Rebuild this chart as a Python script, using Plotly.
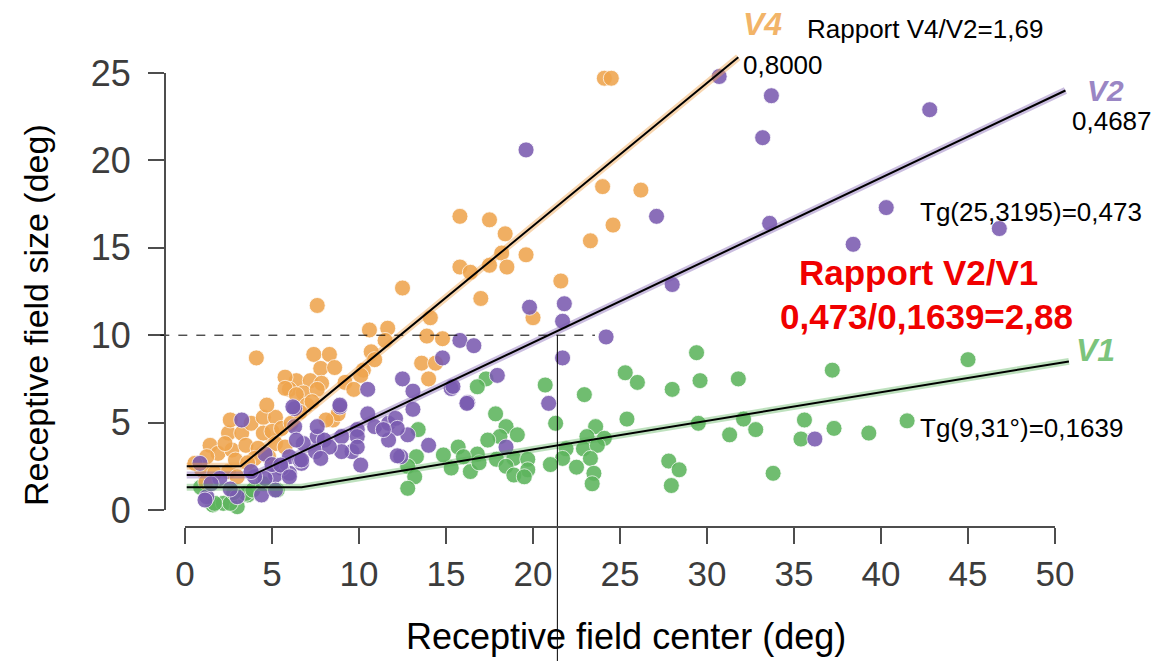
import plotly.graph_objects as go

# ---------------- data ----------------
v4_x = [24.1, 24.5, 24.0, 26.2, 15.8, 17.5, 18.4, 24.6, 23.3, 18.2, 19.6, 15.8, 16.4, 17.5, 18.5,
        12.5, 17.0, 21.6, 20.0, 14.1, 13.9, 14.8, 13.6, 14.4, 14.0, 7.6, 10.6, 11.65, 11.5, 7.4,
        8.3, 10.7, 10.9, 7.8, 8.6, 10.25, 10.1, 6.4, 5.75, 7.2, 7.85, 9.2, 6.0, 6.8, 7.6,
        9.7, 5.75, 6.4, 7.0, 8.5, 8.8, 8.1, 4.1,
        1.44, 2.5, 3.26, 3.8, 4.5, 5.2, 4.5, 5.0, 5.55, 6.1, 1.9, 2.7, 3.5, 4.2, 5.2, 0.96,
        1.7, 2.5, 2.9, 4.0, 4.8, 5.75, 1.25, 0.57, 2.3, 2.6, 1.2, 3.0, 6.6, 7.3, 4.7, 3.6]
v4_y = [24.7, 24.7, 18.5, 18.3, 16.8, 16.6, 15.8, 16.3, 15.4, 14.7, 14.6, 13.9, 13.6, 14.0, 13.9,
        12.7, 12.1, 13.1, 11.0, 11.0, 9.95, 9.8, 8.4, 8.4, 7.5, 11.7, 10.3, 10.4, 9.7, 8.9,
        8.9, 9.05, 8.6, 8.1, 8.15, 8.0, 7.7, 7.4, 7.6, 7.4, 7.25, 7.3, 6.9, 6.7, 6.9,
        6.9, 6.96, 6.6, 6.0, 5.15, 5.5, 5.15, 8.7,
        3.7, 4.4, 4.4, 4.96, 5.3, 5.3, 4.4, 4.5, 4.67, 4.96, 3.24, 3.43, 3.7, 3.53, 3.8, 2.3,
        2.1, 2.2, 2.86, 2.95, 3.05, 3.6, 3.05, 2.67, 3.8, 5.15, 1.6, 1.9, 5.6, 6.2, 6.0, 2.7]

v2_x = [19.6, 27.1, 28.0, 19.8, 21.8, 21.7, 15.8, 16.6, 24.2, 21.7, 14.8, 30.7, 33.7, 42.8, 33.2,
        40.3, 33.6, 46.8, 38.4, 17.95, 15.3, 12.5, 13.1, 16.25, 13.1, 20.9, 12.8, 14.0, 18.45, 12.4,
        36.2, 10.5, 8.9, 6.3, 10.5, 9.9, 10.9, 11.7, 12.1, 12.2, 11.7, 9.6, 10.1, 12.2, 7.6,
        6.8, 8.0, 7.5, 6.7, 6.0, 7.6, 6.3, 15.4, 16.2, 8.9, 6.2, 3.26, 3.0, 0.86, 1.25,
        4.4, 6.4, 6.0, 6.6, 5.55, 5.2, 4.6, 4.0, 5.2, 1.15, 4.6, 5.0, 3.8, 2.0, 1.5,
        2.6, 11.4, 9.0, 9.9, 9.9, 9.0, 8.3, 7.8, 6.7, 5.5, 6.0]
v2_y = [20.6, 16.8, 12.9, 11.6, 11.8, 10.8, 9.7, 9.4, 9.9, 8.7, 8.7, 24.8, 23.7, 22.9, 21.3,
        17.3, 16.4, 16.1, 15.2, 7.7, 6.95, 7.5, 6.8, 6.15, 5.76, 6.1, 4.3, 3.7, 3.6, 3.05,
        4.06, 6.9, 5.9, 5.8, 5.5, 4.6, 4.77, 4.96, 5.24, 4.67, 4.0, 3.34, 2.57, 3.1, 4.2,
        3.8, 4.0, 3.34, 2.67, 2.1, 4.77, 4.77, 7.07, 6.1, 6.0, 5.9, 5.15, 0.76, 2.67, 0.76,
        0.86, 4.0, 3.05, 2.86, 2.4, 2.0, 1.8, 1.9, 1.14, 0.57, 3.2, 2.6, 2.2, 1.8, 1.5,
        1.2, 4.6, 4.2, 4.2, 3.6, 3.34, 3.6, 2.95, 2.86, 2.57, 1.9]

v1_x = [29.4, 45.0, 25.3, 26.0, 29.6, 31.8, 28.0, 22.95, 20.7, 17.3, 16.8, 17.85, 25.4, 29.5, 32.1,
        21.3, 18.45, 23.6, 13.4, 19.1, 18.1, 17.4, 23.1, 24.1, 31.3, 15.7, 14.85, 16.8, 21.9, 22.9,
        23.7, 13.3, 17.9, 18.9, 19.7, 21.7, 23.3, 27.8, 12.8, 15.3, 16.4, 16.9, 18.45, 19.7, 21.0,
        22.5, 23.5, 28.4, 18.9, 19.5, 13.2, 12.8, 23.4, 27.95, 37.2, 32.8, 35.6, 35.4, 37.3, 39.3,
        41.5, 33.8, 1.6, 2.2, 3.0, 3.6, 5.3, 16.0, 1.7, 2.6, 3.5, 3.9, 0.9, 2.8, 4.5]
v1_y = [9.0, 8.6, 7.85, 7.3, 7.4, 7.5, 6.9, 6.6, 7.15, 7.5, 7.05, 5.5, 5.2, 4.96, 5.2,
        4.96, 4.77, 4.77, 4.6, 4.3, 4.2, 4.0, 4.2, 4.1, 4.3, 3.6, 3.15, 3.2, 3.5, 3.5,
        3.7, 3.05, 2.9, 2.95, 2.9, 2.95, 2.95, 2.8, 2.5, 2.4, 2.2, 2.7, 2.5, 2.3, 2.6,
        2.45, 2.1, 2.3, 2.0, 1.9, 1.9, 1.24, 1.5, 1.4, 8.0, 4.6, 5.15, 4.06, 4.67, 4.4,
        5.1, 2.1, 0.29, 0.38, 0.19, 0.86, 1.14, 3.05, 0.38, 0.38, 0.95, 1.14, 1.3, 1.0, 1.5]

# piecewise fits (knee, then slope)
fit_v4_x = [0.1, 3.2, 31.8]
fit_v4_y = [2.5, 2.5, 25.9]
fit_v2_x = [0.1, 3.9, 50.6]
fit_v2_y = [2.0, 2.0, 24.0]
fit_v1_x = [0.1, 6.7, 50.8]
fit_v1_y = [1.3, 1.3, 8.5]

ref_size = 10          # dashed reference level
ref_center = 21.4      # vertical reference line

x_ticks = [0, 5, 10, 15, 20, 25, 30, 35, 40, 45, 50]
y_ticks = [0, 5, 10, 15, 20, 25]

# ---------------- layout geometry ----------------
W, H = 1168, 661
L, R, T, B = 165, 68, 10, 134
PW, PH = W - L - R, H - T - B
PX0, PXU = 185.0, 17.4      # pixel of x=0 and px per unit
PY0, PYU = 510.0, 17.48     # pixel of y=0 and px per unit
xr = [(L - PX0) / PXU, (W - R - PX0) / PXU]
yr = [(PY0 - (H - B)) / PYU, (PY0 - T) / PYU]


def y2paper(y):
    return (y - yr[0]) / (yr[1] - yr[0])


def px2paper(px):
    return (px - L) / PW


def py2paper(py):
    return (H - B - py) / PH


ORANGE = "#EFA54E"
PURPLE = "#7A5BB0"
GREEN = "#5DB55D"
FONT = "Liberation Sans, Arial, Helvetica, sans-serif"

fig = go.Figure()


def add_pts(xs, ys, color):
    fig.add_trace(go.Scatter(x=xs, y=ys, mode="markers", cliponaxis=False,
                             marker=dict(size=16, color=color, opacity=0.88,
                                         line=dict(color="rgba(255,255,255,0.8)", width=1)),
                             hoverinfo="skip", showlegend=False))


add_pts(v1_x, v1_y, GREEN)
add_pts(v4_x, v4_y, ORANGE)
add_pts(v2_x, v2_y, PURPLE)

for fx, fy, glow in [(fit_v4_x, fit_v4_y, "rgba(240,165,80,0.45)"),
                     (fit_v2_x, fit_v2_y, "rgba(122,91,176,0.40)"),
                     (fit_v1_x, fit_v1_y, "rgba(93,181,93,0.40)")]:
    fig.add_trace(go.Scatter(x=fx, y=fy, mode="lines", cliponaxis=False,
                             line=dict(color=glow, width=7), hoverinfo="skip", showlegend=False))
    fig.add_trace(go.Scatter(x=fx, y=fy, mode="lines", cliponaxis=False,
                             line=dict(color="black", width=2), hoverinfo="skip", showlegend=False))

# reference lines
fig.add_shape(type="line", xref="paper", yref="y", x0=-0.005, x1=px2paper(595),
              y0=ref_size, y1=ref_size, line=dict(color="black", width=1, dash="dash"))
fig.add_shape(type="line", xref="x", yref="paper", x0=ref_center, x1=ref_center,
              y0=y2paper(ref_size), y1=py2paper(H + 5), line=dict(color="black", width=1))

# R-style detached axis lines
fig.add_shape(type="line", xref="x", yref="paper", x0=0, x1=50, y0=0, y1=0,
              line=dict(color="#4d4d4d", width=2))
fig.add_shape(type="line", xref="paper", yref="y", x0=0, x1=0, y0=0, y1=25,
              line=dict(color="#4d4d4d", width=2))


def note(text, px, py, size, color="black", anchor="center", angle=0):
    fig.add_annotation(x=px2paper(px), y=py2paper(py), xref="paper", yref="paper", text=text,
                       showarrow=False, xanchor=anchor, yanchor="middle", textangle=angle,
                       borderpad=0, font=dict(family=FONT, size=size, color=color))


note("<b><i>V4</i></b>", 762, 24, 32, "#F2B468")
note("Rapport V4/V2=1,69", 806, 29, 26, anchor="left")
note("0,8000", 742, 65, 26, anchor="left")
note("<b><i>V2</i></b>", 1105, 90, 30, "#9A86C4")
note("0,4687", 1071, 121, 26, anchor="left")
note("Tg(25,3195)=0,473", 919, 212, 26, anchor="left")
note("<b>Rapport V2/V1</b>", 918, 272, 35, "#F00000")
note("<b>0,473/0,1639=2,88</b>", 926, 316, 35, "#F00000")
note("<b><i>V1</i></b>", 1095, 350, 32, "#7CC47C")
note("Tg(9,31°)=0,1639", 919, 428, 26, anchor="left")

# axis titles placed where the reference has them
note("Receptive field center (deg)", 626, 636, 36)
note("Receptive field size (deg)", 36, 315, 34, angle=-90)

fig.update_layout(
    width=W, height=H, margin=dict(l=L, r=R, t=T, b=B),
    paper_bgcolor="white", plot_bgcolor="white",
    font=dict(family=FONT),
    xaxis=dict(range=xr, tickvals=x_ticks, ticks="outside", ticklen=16, tickwidth=2,
               tickcolor="#4d4d4d", showgrid=False, zeroline=False, showline=False,
               tickfont=dict(size=35, color="#3c3c3c", family=FONT)),
    yaxis=dict(range=yr, tickvals=y_ticks, ticks="outside", ticklen=16, tickwidth=2,
               tickcolor="#4d4d4d", showgrid=False, zeroline=False, showline=False,
               ticklabelstandoff=10,
               tickfont=dict(size=36, color="#3c3c3c", family=FONT)),
)

fig.write_html("out.html")
